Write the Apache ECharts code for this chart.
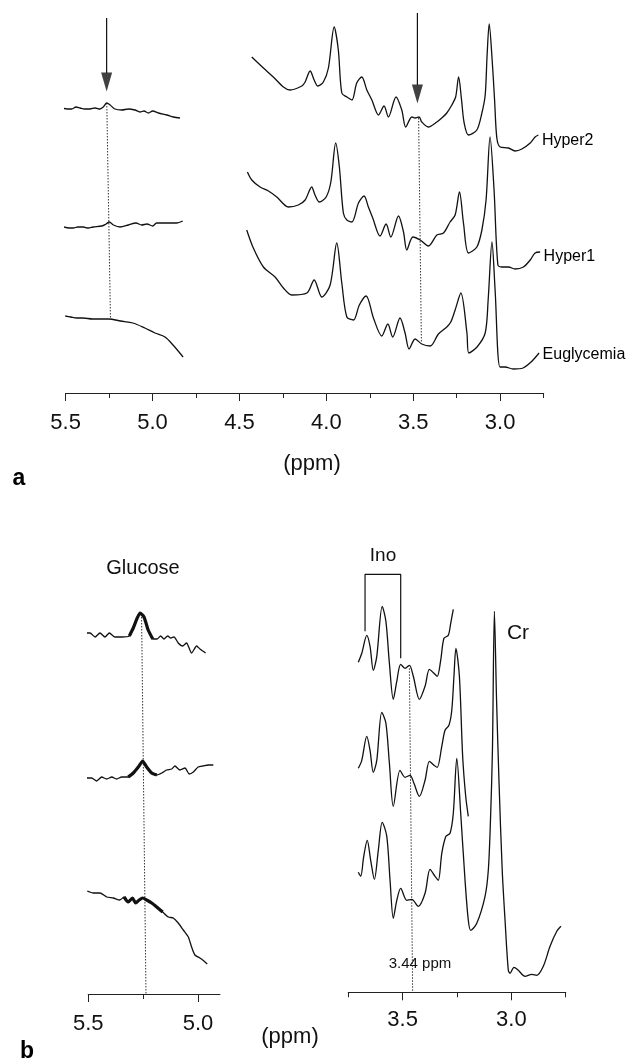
<!DOCTYPE html>
<html>
<head>
<meta charset="utf-8">
<script src="https://cdn.jsdelivr.net/npm/echarts@6/dist/echarts.min.js"></script>
<style>
html,body{margin:0;padding:0;background:#fff;}
#chart{width:631px;height:1063px;}
</style>
</head>
<body>
<div id="chart"></div>
<script>
// ---------------- DATA (ppm, relative intensity a.u.) ----------------
// Panel a: vertical display offsets of each spectrum
const offsetA_Hyper2 = 27, offsetA_Hyper1 = 15, offsetA_Eugly = 3;
// Panel b: vertical display offsets (left: glucose region, right: 3.7-2.75 ppm)
const offsetBL_Hyper2 = 35, offsetBL_Hyper1 = 21, offsetBL_Eugly = 9;
const offsetBR_Hyper2 = 32, offsetBR_Hyper1 = 20, offsetBR_Eugly = 8;

// Panel a, left segment (5.5 - 4.8 ppm)
const aHyper2Left = [[5.522,1.5],[5.49,1.4],[5.465,1.4],[5.44,1.6],[5.417,1.5],[5.39,1.4],[5.360,1.4],[5.33,1.5],[5.302,1.4],[5.283,1.6],[5.263,2.0],[5.244,1.8],[5.216,1.4],[5.177,1.3],[5.139,1.4],[5.101,1.3],[5.072,1.1],[5.049,1.2],[5.024,1.0],[4.999,1.2],[4.966,1.0],[4.918,0.8],[4.880,0.6],[4.842,0.5]];
const aHyper1Left = [[5.509,1.6],[5.48,1.5],[5.456,1.5],[5.43,1.6],[5.398,1.6],[5.37,1.5],[5.341,1.6],[5.292,1.7],[5.267,1.9],[5.249,2.1],[5.225,1.8],[5.187,1.6],[5.139,1.8],[5.095,2.0],[5.062,1.8],[5.032,1.9],[4.999,1.7],[4.976,2.0],[4.918,2.0],[4.861,2.0],[4.826,2.2]];
const aEuglyLeft = [[5.502,4.7],[5.47,4.6],[5.437,4.5],[5.40,4.5],[5.345,4.4],[5.30,4.4],[5.252,4.4],[5.183,4.2],[5.113,4.0],[5.044,3.5],[4.986,3.0],[4.928,2.6],[4.882,1.8],[4.824,0.6]];

// Panel a, right segment (4.45 - 2.77 ppm)
const aHyper2Right = [[4.429,6.6],[4.362,5.5],[4.305,4.6],[4.247,3.6],[4.209,3.3],[4.141,3.7],[4.122,4.1],[4.093,5.2],[4.070,4.3],[4.049,3.7],[4.017,4.1],[3.988,5.5],[3.955,9.6],[3.931,7.3],[3.911,3.0],[3.882,2.6],[3.853,2.3],[3.825,4.0],[3.796,4.6],[3.767,3.3],[3.738,2.3],[3.700,0.8],[3.668,1.7],[3.643,0.6],[3.599,2.6],[3.566,1.3],[3.543,-0.4],[3.508,0.6],[3.489,0.5],[3.466,0.6],[3.451,0.1],[3.413,-0.4],[3.364,0.1],[3.336,0.5],[3.307,1.0],[3.278,1.8],[3.256,2.6],[3.239,4.6],[3.222,2.3],[3.207,0.0],[3.182,-1.2],[3.134,-0.7],[3.105,1.0],[3.086,2.8],[3.075,6.8],[3.063,9.9],[3.046,6.3],[3.032,2.3],[3.019,-1.5],[3.000,-2.4],[2.952,-2.5],[2.914,-2.8],[2.875,-2.6],[2.827,-2.0],[2.799,-1.4],[2.780,-1.2]];
const aHyper1Right = [[4.454,7.1],[4.429,6.3],[4.381,5.6],[4.333,5.2],[4.285,4.6],[4.218,3.6],[4.161,3.8],[4.122,4.3],[4.084,5.6],[4.065,4.8],[4.040,4.1],[4.001,4.6],[3.974,6.1],[3.946,10.0],[3.925,7.6],[3.902,3.0],[3.882,2.3],[3.853,2.1],[3.815,4.0],[3.783,4.7],[3.758,3.6],[3.733,2.5],[3.691,0.7],[3.656,1.9],[3.629,0.6],[3.585,2.7],[3.556,1.1],[3.537,-0.7],[3.502,0.6],[3.460,0.3],[3.413,-0.3],[3.364,0.8],[3.326,1.0],[3.288,2.1],[3.259,2.8],[3.234,5.1],[3.211,2.0],[3.182,-1.0],[3.134,-0.4],[3.105,1.3],[3.081,4.3],[3.058,10.6],[3.035,5.3],[3.013,-2.2],[2.990,-2.4],[2.952,-2.4],[2.914,-2.6],[2.866,-2.4],[2.827,-1.7],[2.799,-1.0],[2.770,-0.9]];
const aEuglyRight = [[4.458,13.3],[4.420,11.5],[4.362,9.6],[4.295,8.6],[4.247,7.5],[4.199,6.8],[4.112,7.0],[4.070,8.3],[4.026,6.6],[3.978,7.8],[3.940,12.0],[3.911,8.0],[3.882,4.6],[3.844,4.3],[3.810,5.8],[3.771,6.7],[3.729,4.5],[3.681,2.7],[3.646,3.9],[3.618,2.6],[3.576,4.5],[3.547,3.0],[3.524,1.4],[3.489,2.4],[3.451,1.9],[3.403,1.7],[3.355,2.9],[3.307,3.6],[3.284,4.1],[3.259,5.3],[3.226,7.0],[3.191,3.0],[3.180,1.0],[3.133,1.6],[3.086,3.0],[3.069,6.3],[3.047,12.1],[3.029,7.3],[3.001,-0.4],[2.971,-0.4],[2.925,-0.6],[2.868,-0.5],[2.822,0.1],[2.776,1.0]];

// Panel b, left: glucose region
const bHyper2Left = [[5.515,1.1],[5.492,1.1],[5.469,0.7],[5.447,1.1],[5.424,0.7],[5.404,1.1],[5.378,0.7],[5.348,0.7],[5.313,0.8],[5.295,1.6],[5.277,2.6],[5.264,3.1],[5.246,2.7],[5.227,1.4],[5.206,0.5],[5.186,0.5],[5.170,0.8],[5.155,0.5],[5.138,0.8],[5.124,0.6],[5.109,0.7],[5.090,0.1],[5.070,-0.2],[5.052,0.1],[5.029,-0.9],[5.006,-0.2],[4.991,-0.5],[4.965,-0.9]];
const bHyper1Left = [[5.507,0.6],[5.485,0.6],[5.462,0.3],[5.439,0.7],[5.416,0.5],[5.393,0.7],[5.371,0.5],[5.348,0.7],[5.318,0.7],[5.295,1.1],[5.272,1.7],[5.252,2.3],[5.234,1.7],[5.211,1.1],[5.188,0.9],[5.165,1.1],[5.143,1.4],[5.120,1.5],[5.105,1.8],[5.082,1.4],[5.059,1.6],[5.040,1.0],[5.021,1.2],[4.999,1.7],[4.976,1.8],[4.953,1.9],[4.930,1.9]];
const bEuglyLeft = [[5.505,1.3],[5.477,1.1],[5.447,1.1],[5.416,0.7],[5.386,0.6],[5.356,0.4],[5.337,0.7],[5.318,0.2],[5.299,0.6],[5.284,0.1],[5.268,0.4],[5.252,0.6],[5.234,0.4],[5.211,0.1],[5.188,-0.3],[5.161,-0.8],[5.135,-1.3],[5.113,-1.4],[5.090,-1.9],[5.067,-2.6],[5.044,-3.3],[5.029,-4.3],[5.014,-5.1],[4.991,-5.4],[4.973,-5.7],[4.958,-6.0]];
// glucose peak windows drawn in bold [high ppm, low ppm]
const glucoseWindowHyper2 = [5.315, 5.205];
const glucoseWindowHyper1 = [5.320, 5.188];
const glucoseWindowEugly = [5.338, 5.160];

// Panel b, right: 3.7 - 2.77 ppm
const bHyper2Right = [[3.704,1.0],[3.688,1.9],[3.665,3.7],[3.650,2.6],[3.635,0.2],[3.619,1.6],[3.594,6.6],[3.577,5.1],[3.561,0.9],[3.543,-2.7],[3.527,-0.9],[3.509,0.8],[3.489,0.4],[3.469,0.7],[3.451,-0.4],[3.423,-2.7],[3.397,-1.4],[3.377,0.3],[3.356,-0.1],[3.341,-0.4],[3.325,1.2],[3.310,3.4],[3.290,3.7],[3.279,4.9],[3.267,6.3]];
const bHyper1Right = [[3.704,2.4],[3.688,3.2],[3.665,5.6],[3.650,4.2],[3.635,2.0],[3.619,3.2],[3.596,8.0],[3.577,6.9],[3.561,2.9],[3.543,-1.4],[3.512,2.2],[3.489,1.5],[3.466,1.7],[3.448,0.9],[3.423,-0.4],[3.397,1.2],[3.377,3.1],[3.356,2.7],[3.341,2.5],[3.320,4.6],[3.305,6.2],[3.287,6.7],[3.274,8.2],[3.264,11.6],[3.255,14.4],[3.239,11.6],[3.224,3.6],[3.210,-0.4],[3.198,-2.4]];
const bEuglyRight = [[3.704,4.0],[3.693,3.6],[3.679,5.6],[3.663,7.2],[3.647,5.2],[3.630,3.3],[3.612,6.2],[3.594,9.0],[3.573,7.6],[3.558,3.2],[3.543,-0.6],[3.527,1.2],[3.509,2.4],[3.481,1.2],[3.458,1.3],[3.428,0.6],[3.397,1.9],[3.374,4.3],[3.351,3.6],[3.336,3.2],[3.320,5.9],[3.301,7.6],[3.282,7.9],[3.267,9.9],[3.251,15.4],[3.233,9.9],[3.213,3.2],[3.198,-0.8],[3.187,-1.8],[3.159,-1.1],[3.121,1.6],[3.106,4.2],[3.096,9.2],[3.087,16.2],[3.078,30.1],[3.068,21.2],[3.057,13.2],[3.042,4.2],[3.029,-0.8],[3.014,-5.8],[3.006,-6.1],[2.988,-5.5],[2.968,-5.8],[2.937,-6.4],[2.906,-6.2],[2.883,-6.3],[2.853,-5.4],[2.822,-3.4],[2.791,-1.9],[2.772,-1.4]];

// Annotations (ppm, display units)
const arrowLeftA = {ppm: 5.264, top: 37.5, headTop: 32.0, head: 31.1};
const arrowRightA = {ppm: 3.476, top: 38.0, headTop: 30.8, head: 29.9};
const dottedA1 = [[5.263,29.0],[5.242,7.5]];
const dottedA2 = [[3.469,27.5],[3.453,5.0]];
const dottedB1 = [[5.257,37.7],[5.237,0]];
const dottedB2 = [[3.469,32.4],[3.454,0]];
const inoBracket = [[3.673,36.1],[3.673,41.8],[3.509,41.8],[3.509,33.4]];

// Axis ticks / labels
const ticksMajorA = [5.5,5.0,4.5,4.0,3.5,3.0];
const ticksMinorA = [5.25,4.75,4.25,3.75,3.25,2.75];
const ticksMajorBL = [5.5,5.0];
const ticksMinorBL = [5.25];
const ticksMajorBR = [3.5,3.0];
const ticksMinorBR = [3.75,3.25,2.75];

// ---------------- CHART ----------------
const FONT = '"Liberation Sans", Arial, Helvetica, sans-serif';
const INK = '#111';
const chart = echarts.init(document.getElementById('chart'), null, {renderer:'canvas'});

function shift(data, off){ return data.map(p => [p[0], +(p[1] + off).toFixed(3)]); }
function windowed(data, w){ return data.filter(p => p[0] <= w[0] && p[0] >= w[1]); }

function trace(name, data, off, ax, extra, labelDy){
  const d = shift(data, off);
  const s = Object.assign({
    type:'line', name, xAxisIndex: ax.x, yAxisIndex: ax.y,
    data: d, symbol:'none', showSymbol:false,
    smooth:0.3, smoothMonotone:'none', clip:false, silent:true, animation:false,
    lineStyle:{color:INK, width:1.3}, z:3
  }, extra || {});
  if (labelDy !== undefined) {
    s.markPoint = {
      silent:true, animation:false, symbol:'circle', symbolSize:1,
      itemStyle:{color:'rgba(0,0,0,0)'},
      label:{show:true, position:'right', distance:3, offset:[0,labelDy],
        formatter:name, color:'#000', fontFamily:FONT, fontSize:16},
      data:[{coord: d[d.length-1]}]
    };
  }
  return s;
}
function dotted(name, data, ax){
  return {type:'line', name, xAxisIndex:ax.x, yAxisIndex:ax.y, data, symbol:'none',
    clip:false, silent:true, animation:false,
    lineStyle:{color:'#333', width:1, type:[1.5,1.5]}, z:2};
}
function plain(name, data, ax, w){
  return {type:'line', name, xAxisIndex:ax.x, yAxisIndex:ax.y, data, symbol:'none',
    clip:false, silent:true, animation:false, lineStyle:{color:INK, width:w}, z:2};
}

const A = {x:0, y:0}, BL = {x:2, y:1}, BR = {x:4, y:2};

function xAxes(grid, min, max, major, minor, labelMargin){
  return [
    {gridIndex:grid, type:'value', min, max, inverse:true, position:'bottom',
     axisLine:{show:true, onZero:false, lineStyle:{color:'#222', width:1.2}},
     axisTick:{show:true, customValues: major, length:8, lineStyle:{color:'#222', width:1}},
     axisLabel:{show:true, customValues: major, margin:labelMargin, fontSize:22, color:'#111',
       fontFamily:FONT, formatter: v => Number(v).toFixed(1)},
     splitLine:{show:false}},
    {gridIndex:grid, type:'value', min, max, inverse:true, position:'bottom',
     axisLine:{show:false, onZero:false},
     axisTick:{show:true, customValues: minor, length:5, lineStyle:{color:'#222', width:1}},
     axisLabel:{show:false}, splitLine:{show:false}}
  ];
}

const option = {
  backgroundColor:'#fff',
  animation:false,
  grid:[
    {left:65.6, top:0, width:478, height:393},
    {left:88.3, top:540, width:131.6, height:454},
    {left:348.3, top:540, width:217.4, height:452.3}
  ],
  xAxis: [].concat(
    xAxes(0, 2.75, 5.5, ticksMajorA, ticksMinorA, 19),
    xAxes(1, 4.9, 5.5, ticksMajorBL, ticksMinorBL, 19),
    xAxes(2, 2.75, 3.75, ticksMajorBR, ticksMinorBR, 17)
  ),
  yAxis:[
    {gridIndex:0, type:'value', min:0, max:39.3, show:false},
    {gridIndex:1, type:'value', min:0, max:45.4, show:false},
    {gridIndex:2, type:'value', min:0, max:45.23, show:false}
  ],
  series:[
    // panel a
    trace('Hyper2 glucose region', aHyper2Left, offsetA_Hyper2, A),
    trace('Hyper1 glucose region', aHyper1Left, offsetA_Hyper1, A),
    trace('Euglycemia glucose region', aEuglyLeft, offsetA_Eugly, A),
    trace('Hyper2', aHyper2Right, offsetA_Hyper2, A, null, 6),
    trace('Hyper1', aHyper1Right, offsetA_Hyper1, A, null, 5),
    trace('Euglycemia', aEuglyRight, offsetA_Eugly, A, null, 2),
    dotted('dotted a1', dottedA1, A),
    dotted('dotted a2', dottedA2, A),
    plain('arrow shaft L', [[arrowLeftA.ppm, arrowLeftA.top],[arrowLeftA.ppm, arrowLeftA.headTop]], A, 1.2),
    plain('arrow shaft R', [[arrowRightA.ppm, arrowRightA.top],[arrowRightA.ppm, arrowRightA.headTop]], A, 1.2),
    {type:'scatter', name:'arrow heads', xAxisIndex:0, yAxisIndex:0, silent:true, animation:false,
     symbol:'path://M0,0L10,0L5,18Z', symbolSize:[11,19], itemStyle:{color:INK}, clip:false,
     data:[[arrowLeftA.ppm, arrowLeftA.head],[arrowRightA.ppm, arrowRightA.head]]},
    // panel b left
    trace('b Hyper2 glucose', bHyper2Left, offsetBL_Hyper2, BL, {smooth:0.2}),
    trace('b Hyper1 glucose', bHyper1Left, offsetBL_Hyper1, BL, {smooth:0.2}),
    trace('b Euglycemia glucose', bEuglyLeft, offsetBL_Eugly, BL, {smooth:0.2}),
    trace('b Hyper2 peak', windowed(bHyper2Left, glucoseWindowHyper2), offsetBL_Hyper2, BL, {smooth:0.2, lineStyle:{color:INK, width:3.2}, z:4}),
    trace('b Hyper1 peak', windowed(bHyper1Left, glucoseWindowHyper1), offsetBL_Hyper1, BL, {smooth:0.2, lineStyle:{color:INK, width:3.2}, z:4}),
    trace('b Euglycemia peak', windowed(bEuglyLeft, glucoseWindowEugly), offsetBL_Eugly, BL, {smooth:0.2, lineStyle:{color:INK, width:3.2}, z:4}),
    dotted('dotted b1', dottedB1, BL),
    // panel b right
    trace('b Hyper2 right', bHyper2Right, offsetBR_Hyper2, BR),
    trace('b Hyper1 right', bHyper1Right, offsetBR_Hyper1, BR),
    trace('b Euglycemia right', bEuglyRight, offsetBR_Eugly, BR),
    dotted('dotted b2', dottedB2, BR),
    plain('Ino bracket', inoBracket, BR, 1.2)
  ],
  graphic:[
    {type:'text', x:312, y:464, style:{text:'(ppm)', fill:'#111', font:'22px ' + FONT, textAlign:'center', textVerticalAlign:'middle', verticalAlign:'middle'}},
    {type:'text', x:19, y:479, style:{text:'a', fill:'#000', font:'bold 23px ' + FONT, textAlign:'center', textVerticalAlign:'middle', verticalAlign:'middle'}},
    {type:'text', x:143, y:568, style:{text:'Glucose', fill:'#111', font:'20px ' + FONT, textAlign:'center', textVerticalAlign:'middle', verticalAlign:'middle'}},
    {type:'text', x:383, y:556, style:{text:'Ino', fill:'#111', font:'19px ' + FONT, textAlign:'center', textVerticalAlign:'middle', verticalAlign:'middle'}},
    {type:'text', x:518, y:633, style:{text:'Cr', fill:'#111', font:'21px ' + FONT, textAlign:'center', textVerticalAlign:'middle', verticalAlign:'middle'}},
    {type:'text', x:420, y:964, style:{text:'3.44 ppm', fill:'#111', font:'15px ' + FONT, textAlign:'center', textVerticalAlign:'middle', verticalAlign:'middle'}},
    {type:'text', x:290, y:1037, style:{text:'(ppm)', fill:'#111', font:'22px ' + FONT, textAlign:'center', textVerticalAlign:'middle', verticalAlign:'middle'}},
    {type:'text', x:27, y:1052, style:{text:'b', fill:'#000', font:'bold 23px ' + FONT, textAlign:'center', textVerticalAlign:'middle', verticalAlign:'middle'}}
  ]
};
chart.setOption(option);
</script>
</body>
</html>
